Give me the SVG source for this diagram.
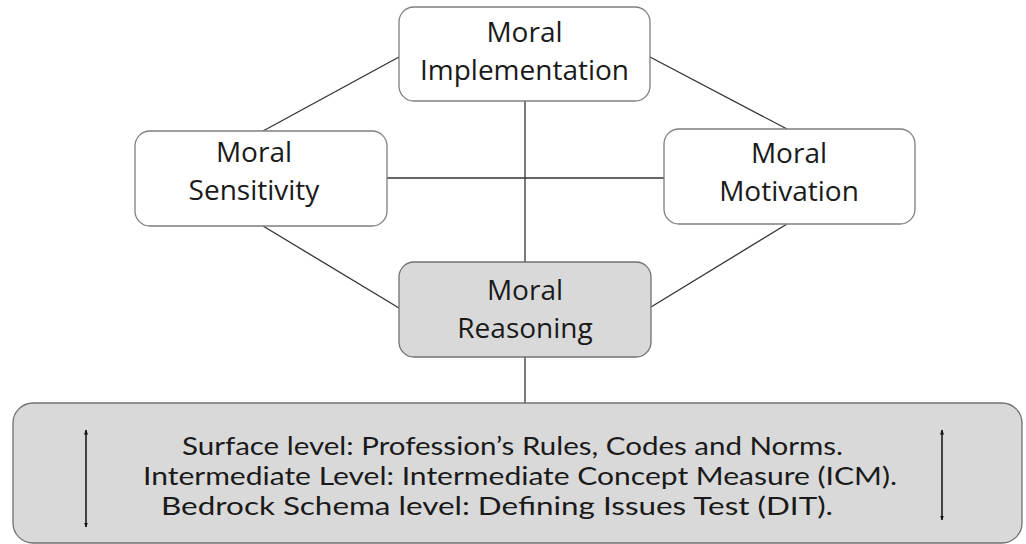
<svg xmlns="http://www.w3.org/2000/svg" width="1026" height="544" viewBox="0 0 1026 544">
<style>
.box{fill:#ffffff;stroke:#7f7f7f;stroke-width:1.3}
.grey{fill:#d9d9d9;stroke:#707070;stroke-width:1.3}
.t{font-family:"Open Sans","Liberation Sans",sans-serif;font-size:28px;fill:#1a1a1a;text-anchor:middle}
.b{font-family:Lato,"Liberation Sans",sans-serif;font-size:24.5px;fill:#1a1a1a;text-anchor:start}
.c{stroke:#333333;stroke-width:1.3;fill:none}
.a{stroke:#111111;stroke-width:1.5;fill:none;marker-start:url(#ah);marker-end:url(#ah)}
</style>
<defs>
<marker id="ah" viewBox="0 0 10 10" refX="9" refY="5" markerWidth="5" markerHeight="5" orient="auto-start-reverse" markerUnits="userSpaceOnUse">
<path d="M0,1 L10,5 L0,9 z" fill="#111111"/>
</marker>
</defs>
<g id="connectors">
<line class="c" x1="399" y1="57" x2="263" y2="131"/>
<line class="c" x1="650" y1="57" x2="787" y2="129"/>
<line class="c" x1="387" y1="178" x2="664" y2="178"/>
<line class="c" x1="263" y1="226" x2="399" y2="308"/>
<line class="c" x1="787" y1="224" x2="651" y2="307"/>
<line class="c" x1="525" y1="101" x2="525" y2="262"/>
<line class="c" x1="525" y1="357" x2="525" y2="403"/>
</g>
<g id="implementation">
<rect class="box" x="399" y="7" width="251" height="94" rx="15"/>
<text class="t" x="524.5" y="42">Moral</text>
<text class="t" x="524.5" y="80">Implementation</text>
</g>
<g id="sensitivity">
<rect class="box" x="135" y="131" width="252" height="95" rx="15"/>
<text class="t" x="254" y="162">Moral</text>
<text class="t" x="254" y="200">Sensitivity</text>
</g>
<g id="motivation">
<rect class="box" x="664" y="129" width="251" height="95" rx="15"/>
<text class="t" x="789" y="163">Moral</text>
<text class="t" x="789" y="201">Motivation</text>
</g>
<g id="reasoning">
<rect class="grey" x="399" y="262" width="252" height="95" rx="15"/>
<text class="t" x="525" y="300">Moral</text>
<text class="t" x="525" y="338">Reasoning</text>
</g>
<g id="levels">
<rect class="grey" x="13" y="403" width="1009" height="140" rx="20"/>
<text class="b" x="182" y="455" textLength="661" lengthAdjust="spacingAndGlyphs">Surface level: Profession’s Rules, Codes and Norms.</text>
<text class="b" x="143" y="485" textLength="754" lengthAdjust="spacingAndGlyphs">Intermediate Level: Intermediate Concept Measure (ICM).</text>
<text class="b" x="161" y="515" textLength="672" lengthAdjust="spacingAndGlyphs">Bedrock Schema level: Defining Issues Test (DIT).</text>
<line class="a" x1="86" y1="430" x2="86" y2="527"/>
<line class="a" x1="942" y1="430" x2="942" y2="520"/>
</g>
</svg>
